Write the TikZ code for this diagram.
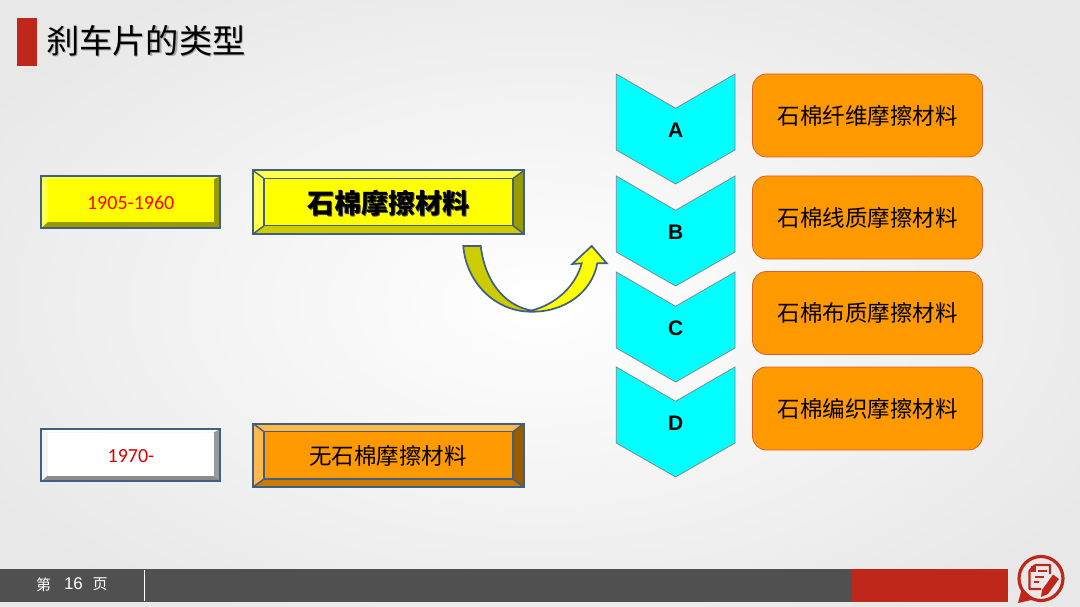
\documentclass[tikz,border=0pt]{standalone}
\usepackage{fontspec}
\setmainfont{Noto Sans CJK SC}
\newfontfamily\latinsans{Liberation Sans}
\newfontfamily\yearfont{Carlito}
\definecolor{edgeblue}{HTML}{3F5F85}
\definecolor{brakered}{HTML}{C0271B}
\definecolor{chip}{HTML}{FF9900}
\definecolor{chipline}{HTML}{D9622B}
\definecolor{barGrey}{HTML}{505050}
\definecolor{pureyellow}{HTML}{FFFF00}
\definecolor{purecyan}{HTML}{00FFFF}
\definecolor{purered}{HTML}{FF0000}
\definecolor{yellowlit}{HTML}{FFFF4D}
\definecolor{yellowmid}{HTML}{CCCC00}
\definecolor{yellowdark}{HTML}{999900}
\definecolor{chiplit}{HTML}{FFB84D}
\definecolor{chipmid}{HTML}{CC7A00}
\definecolor{chipdark}{HTML}{995C00}
\tikzset{
  x=1pt,y=-1pt,
  chev/.style={fill=purecyan,draw=gray,line width=.7pt,line join=miter},
  chevlabel/.style={font=\latinsans\bfseries\fontsize{21}{21}\selectfont,text=black,inner sep=0pt},
  chipbox/.style={fill=chip,draw=chipline,line width=.8pt,rounded corners=14pt},
  chiptext/.style={font=\fontsize{22.5}{24}\selectfont,text=black,inner sep=0pt},
  yeartext/.style={font=\yearfont\fontsize{20}{22}\selectfont,inner sep=0pt},
  frame/.style={draw=edgeblue,line width=2pt,line join=miter},
  seam/.style={draw=edgeblue,line width=1.4pt},
  iconline/.style={draw=brakered,line width=3.2pt,line join=round},
}
\newcommand{\bevelfaces}[9]{%
  \fill[\toplit] (#1,#2)--(#3,#2)--(#7,#6)--(#5,#6)--cycle;
  \fill[\leftlit] (#1,#2)--(#5,#6)--(#5,#8)--(#1,#4)--cycle;
  \fill[\rightdark] (#3,#2)--(#7,#6)--(#7,#8)--(#3,#4)--cycle;
  \fill[\botdark] (#1,#4)--(#3,#4)--(#7,#8)--(#5,#8)--cycle;
  \fill[#9] (#5,#6) rectangle (#7,#8);
}
\begin{document}
\begin{tikzpicture}
\useasboundingbox (0,0) rectangle (1080,607);
\definecolor{bgedge}{HTML}{E8E8E8}
\shade[inner color=white,outer color=bgedge] (-110,-70) rectangle (1190,677);
% title
\fill[brakered] (17,18) rectangle (36.7,66);
\node[inner sep=0pt,text=gray!70,font=\fontsize{33.3}{35}\selectfont] (titleshadow) at (147,42) {刹车片的类型};
\node[inner sep=0pt,text=black,font=\fontsize{33.3}{35}\selectfont] (title) at (146,41) {刹车片的类型};
% year box 1
\def\toplit{yellowlit}\def\leftlit{yellowlit}\def\rightdark{yellowdark}\def\botdark{yellowdark}
\bevelfaces{41.3}{176.3}{220.2}{228.2}{48}{179.5}{213.5}{222}{pureyellow}
\draw[frame] (41.3,176.3) rectangle (220.2,228.2);
\node[yeartext,text=purered] (y1) at (130.7,203) {1905-1960};
% main box 1
\def\toplit{yellowlit}\def\leftlit{yellowlit}\def\rightdark{yellowdark}\def\botdark{yellowmid}
\bevelfaces{253}{170.5}{524}{234}{264}{178.5}{513}{225.7}{pureyellow}
\draw[seam] (264,178.5) rectangle (513,225.7);
\draw[seam] (253,170.5)--(264,178.5) (524,170.5)--(513,178.5) (253,234)--(264,225.7) (524,234)--(513,225.7);
\draw[frame] (253,170.5) rectangle (524,234);
\node[inner sep=0pt,text=black!70,font=\bfseries\fontsize{27}{29}\selectfont] (m1s) at (389.3,203.8) {石棉摩擦材料};
\node[inner sep=0pt,text=black,font=\bfseries\fontsize{27}{29}\selectfont] (m1) at (388.7,203) {石棉摩擦材料};
% year box 2
\def\toplit{white}\def\leftlit{white!92!gray}\def\rightdark{gray!80}\def\botdark{gray!90}
\bevelfaces{41.3}{429.3}{220.2}{481.2}{48}{432.5}{213.5}{475.5}{white}
\draw[frame] (41.3,429.3) rectangle (220.2,481.2);
\node[yeartext,text=purered!85!black] (y2) at (131,456) {1970-};
% main box 2
\def\toplit{chiplit}\def\leftlit{chiplit}\def\rightdark{chipdark}\def\botdark{chipmid}
\bevelfaces{253}{423.5}{523.5}{487}{264}{431.7}{513}{479}{chip}
\draw[seam] (264,431.7) rectangle (513,479);
\draw[seam] (253,423.5)--(264,431.7) (523.5,423.5)--(513,431.7) (253,487)--(264,479) (523.5,487)--(513,479);
\draw[frame] (253,423.5) rectangle (523.5,487);
\node[inner sep=0pt,text=black,font=\fontsize{22.5}{24}\selectfont] (m2) at (388,456) {无石棉摩擦材料};
% curved arrow
\fill[yellowmid] (463.3,246) .. controls (466,282) and (495,312) .. (531.7,311.7)
  .. controls (510,307) and (486,288) .. (480.7,246) -- cycle;
\fill[pureyellow] (525,310.7) .. controls (528,312) and (535,312) .. (538,311)
  .. controls (570,310) and (592,292) .. (597.3,263.3) -- (606.7,263.3) -- (591.7,246) -- (572.3,264) -- (581.7,263.3)
  .. controls (576,285) and (557,304) .. (531.7,310.5) -- cycle;
\draw[edgeblue,line width=1.7pt,line join=miter] (463.3,246) .. controls (466,282) and (495,312) .. (531.7,311.7)
  .. controls (565,312) and (592,292) .. (597.3,263.3) -- (606.7,263.3) -- (591.7,246) -- (572.3,264) -- (581.7,263.3)
  .. controls (576,285) and (557,304) .. (531.7,310.5)
  .. controls (510,307) and (486,288) .. (480.7,246) -- cycle;
% chevrons
\foreach \nm/\top/\lab in {a/74/A,b/176/B,c/272/C,d/367/D}{
  \draw[chev] (616.3,\top) -- (675.6,\top+34.3) -- (735,\top) -- (735,\top+76) -- (675.6,\top+110) -- (616.3,\top+76) -- cycle;
  \node[chevlabel] (chev\nm) at (675.6,\top+56) {\lab};
}
% chips
\draw[chipbox] (752.5,74) rectangle (982.5,157);
\node[chiptext] (ca) at (867.5,115.5) {石棉纤维摩擦材料};
\draw[chipbox] (752.5,176) rectangle (982.5,259);
\node[chiptext] (cb) at (867.5,217.5) {石棉线质摩擦材料};
\draw[chipbox] (752.5,271.5) rectangle (982.5,354.5);
\node[chiptext] (cc) at (867.5,313) {石棉布质摩擦材料};
\draw[chipbox] (752.5,367) rectangle (982.5,450);
\node[chiptext] (cd) at (867.5,408.5) {石棉编织摩擦材料};
% footer
\fill[barGrey] (0,569) rectangle (852,602);
\fill[brakered] (852,569) rectangle (1008.3,602);
\draw[white,line width=.7pt] (144.7,570) -- (144.7,601);
\node[inner sep=0pt,text=white,font=\fontsize{15}{16}\selectfont] (pa) at (43.5,584.5) {第};
\node[inner sep=0pt,text=white,font=\latinsans\fontsize{17}{18}\selectfont] (pb) at (73.5,584) {16};
\node[inner sep=0pt,text=white,font=\fontsize{15}{16}\selectfont] (pc) at (100,584.5) {页};
% icon
\draw[iconline] (1041,578.5) circle[radius=22];
\fill[brakered] (1018,603) -- (1022,588) -- (1034,599.5) -- cycle;
\draw[brakered,line width=2.4pt,line join=round] (1035,565) -- (1050,565) -- (1050,574) (1035,565) -- (1029.5,571) -- (1029.5,589) -- (1041,589);
\fill[brakered] (1031,566) -- (1036,566) -- (1036,571.5) -- (1031,571.5) -- cycle;
\draw[brakered,line width=1.4pt] (1038,571) -- (1047,571) (1035,577) -- (1044,577) (1034,582) -- (1039,582);
\fill[brakered] (1042,590) -- (1053,574.5) -- (1059,579) -- (1048,594) -- (1041,597) -- cycle;
\end{tikzpicture}
\end{document}
